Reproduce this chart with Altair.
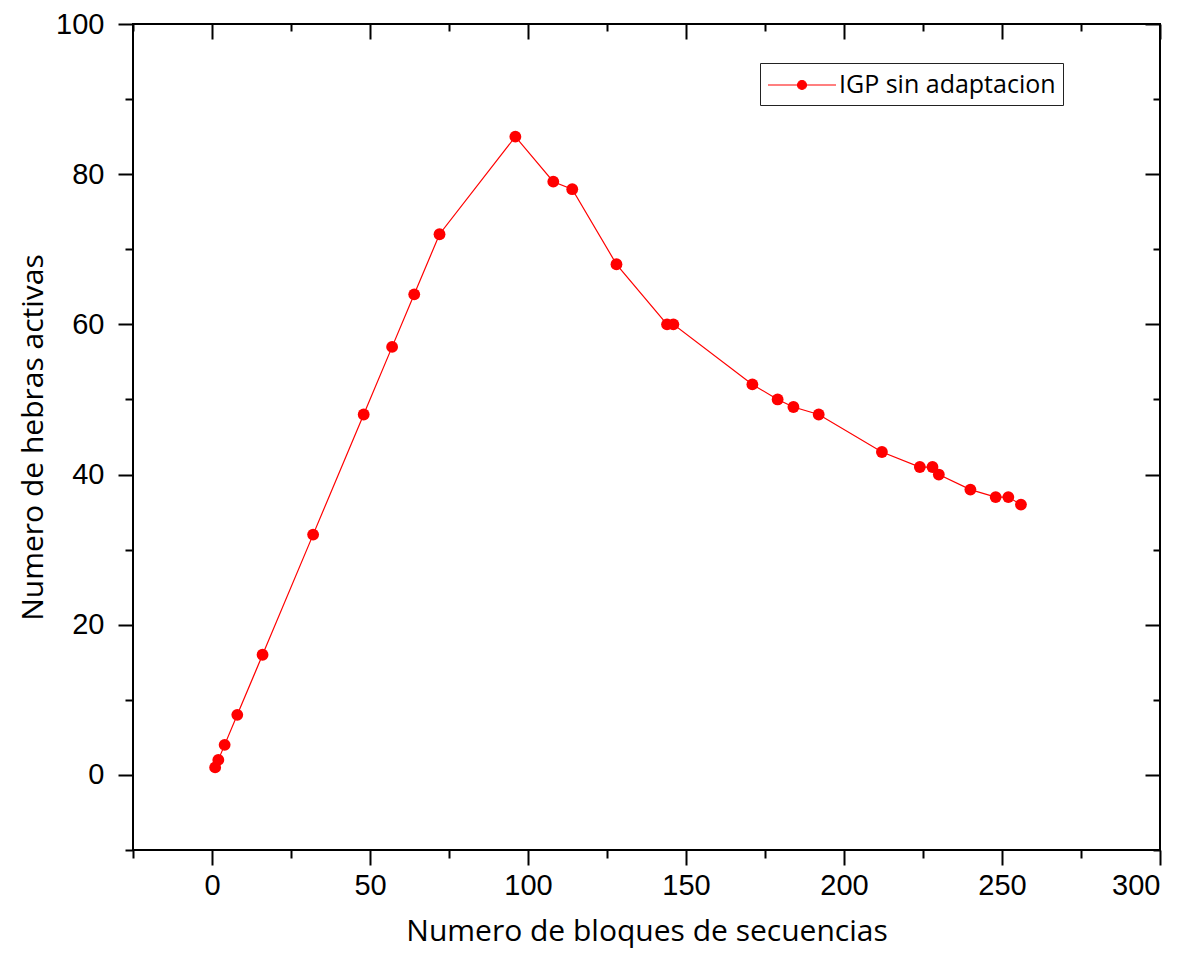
import altair as alt
import pandas as pd

# Data
x_vals = [1, 2, 4, 8, 16, 32, 48, 57, 64, 72, 96, 108, 114, 128, 144, 146,
          171, 179, 184, 192, 212, 224, 228, 230, 240, 248, 252, 256]
y_vals = [1, 2, 4, 8, 16, 32, 48, 57, 64, 72, 85, 79, 78, 68, 60, 60,
          52, 50, 49, 48, 43, 41, 41, 40, 38, 37, 37, 36]
series_name = "IGP sin adaptacion"

x_major = [0, 50, 100, 150, 200, 250, 300]
x_minor = [-25, 25, 75, 125, 175, 225, 275]
y_major = [0, 20, 40, 60, 80, 100]
y_minor = [-10, 10, 30, 50, 70, 90]

x_title = "Numero de bloques de secuencias"
y_title = "Numero de hebras activas"

df = pd.DataFrame({"x": x_vals, "y": y_vals, "series": [series_name] * len(x_vals)})

RED = "#ff0000"
LABEL_FONT = "Liberation Sans"
TITLE_FONT = "Open Sans"

xs = alt.Scale(domain=[-25, 300], nice=False, zero=False)
ys = alt.Scale(domain=[-10, 100], nice=False, zero=False)

common_tick = dict(tickWidth=2, tickColor="black", domain=False, grid=False)

ax_bottom_major = alt.Axis(orient="bottom", values=x_major, tickSize=15,
                           labelFont=LABEL_FONT, labelFontSize=29, labelColor="black",
                           labelPadding=6, title=x_title, titleFont=TITLE_FONT,
                           titleFontSize=30, titleFontWeight="normal", titleColor="black",
                           titlePadding=16, **common_tick)
ax_left_major = alt.Axis(orient="left", values=y_major, tickSize=15,
                         labelFont=LABEL_FONT, labelFontSize=29, labelColor="black",
                         labelPadding=14, title=y_title, titleFont=TITLE_FONT,
                         titleFontSize=30, titleFontWeight="normal", titleColor="black",
                         titlePadding=7, **common_tick)
ax_bottom_minor = alt.Axis(orient="bottom", values=x_minor, tickSize=8,
                           labels=False, title=None, **common_tick)
ax_left_minor = alt.Axis(orient="left", values=y_minor, tickSize=8,
                         labels=False, title=None, **common_tick)
ax_top_major = alt.Axis(orient="top", values=x_major, tickSize=15, offset=-15,
                        labels=False, title=None, **common_tick)
ax_right_major = alt.Axis(orient="right", values=y_major, tickSize=15, offset=-15,
                          labels=False, title=None, **common_tick)
ax_top_minor = alt.Axis(orient="top", values=x_minor, tickSize=7, offset=-7,
                        labels=False, title=None, **common_tick)
ax_right_minor = alt.Axis(orient="right", values=y_minor, tickSize=7, offset=-7,
                          labels=False, title=None, **common_tick)

# custom legend glyph: a horizontal line with a dot in its middle
# (path units scaled by sqrt(size)/2 = 14 px)
legend_symbol = "M-2.43,0H2.43M0.32,0A0.32,0.32,0,1,1,-0.32,0A0.32,0.32,0,1,1,0.32,0Z"

base = alt.Chart(df)

line = base.mark_line(color=RED, strokeWidth=1.2).encode(
    x=alt.X("x:Q", scale=xs, axis=ax_bottom_major),
    y=alt.Y("y:Q", scale=ys, axis=ax_left_major),
)

points = base.mark_point(filled=True, size=140, opacity=1, color=RED).encode(
    x=alt.X("x:Q", scale=xs, axis=ax_bottom_minor),
    y=alt.Y("y:Q", scale=ys, axis=ax_left_minor),
    color=alt.Color("series:N",
                    scale=alt.Scale(domain=[series_name], range=[RED]),
                    legend=alt.Legend(orient="none", legendX=627, legendY=39,
                                      title=None, strokeColor="#222222",
                                      fillColor="white", padding=7,
                                      symbolType=legend_symbol, symbolSize=784,
                                      symbolOffset=20,
                                      symbolStrokeWidth=1.2,
                                      symbolStrokeColor=RED, symbolFillColor=RED,
                                      symbolOpacity=1,
                                      labelFont=TITLE_FONT, labelFontSize=25,
                                      labelLimit=0,
                                      labelColor="black", labelOffset=22)),
)

ghost1 = base.mark_point(opacity=0).encode(
    x=alt.X("x:Q", scale=xs, axis=ax_top_major),
    y=alt.Y("y:Q", scale=ys, axis=ax_right_major),
)
ghost2 = base.mark_point(opacity=0).encode(
    x=alt.X("x:Q", scale=xs, axis=ax_top_minor),
    y=alt.Y("y:Q", scale=ys, axis=ax_right_minor),
)

chart = alt.layer(line, points, ghost1, ghost2).resolve_axis(
    x="independent", y="independent"
).properties(
    width=1027, height=826,
    autosize=alt.AutoSizeParams(type="none"),
    padding={"left": 125, "top": 16, "right": 20, "bottom": 100},
    background="white",
).configure_view(stroke="black", strokeWidth=2)

chart.save("out.html", embed_options={"renderer": "svg", "actions": False})
